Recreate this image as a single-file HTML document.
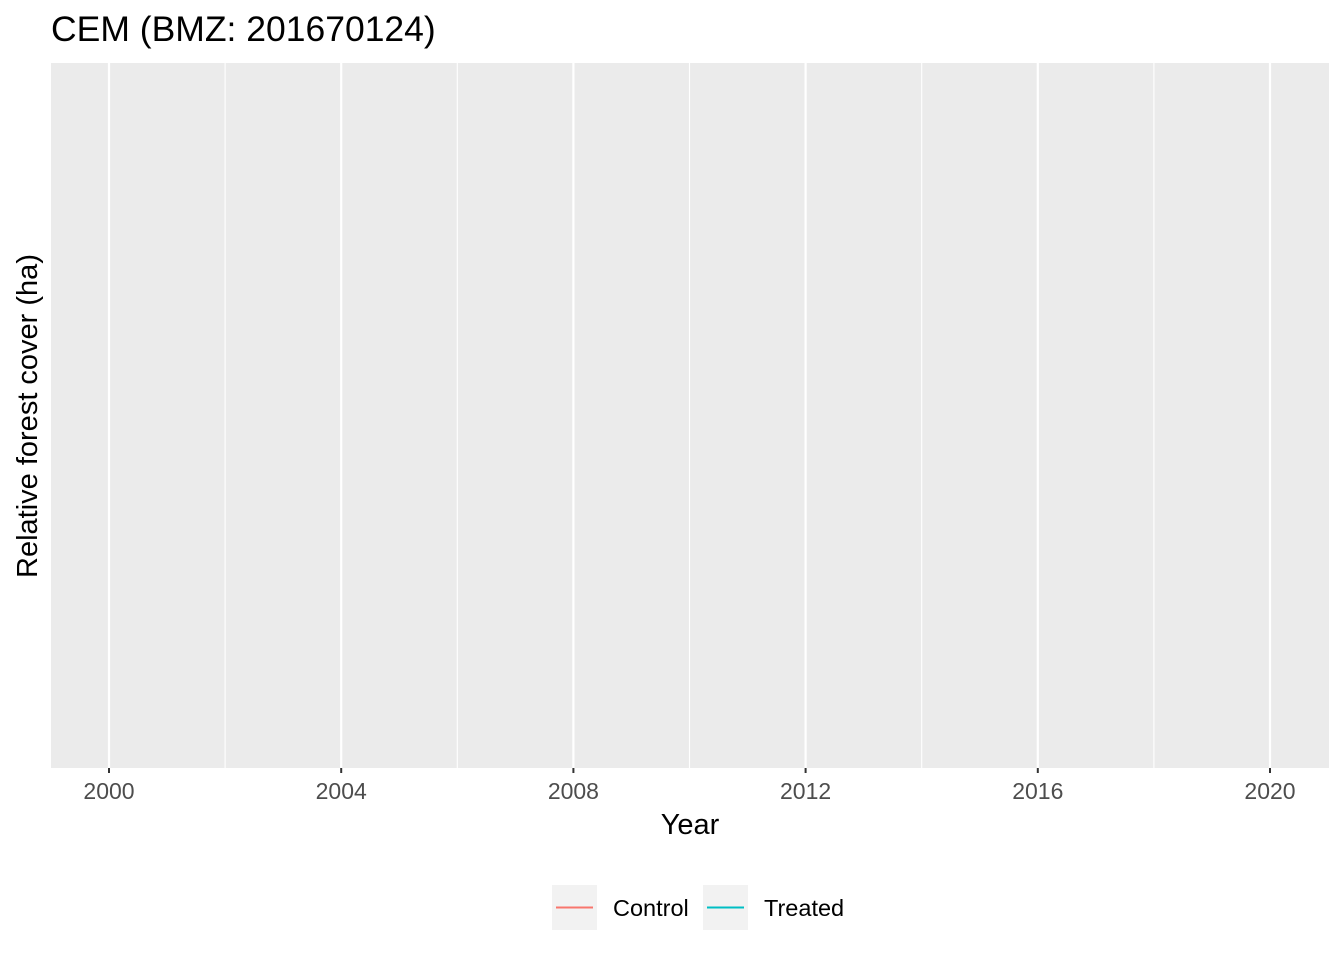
<!DOCTYPE html>
<html><head><meta charset="utf-8"><style>
body{margin:0;background:#fff;font-family:"Liberation Sans",sans-serif;}
svg{display:block}
</style></head><body>
<svg id="chart" width="1344" height="960">
<text x="51" y="41" font-size="35.5" fill="#000">CEM (BMZ: 201670124)</text>
<rect x="51" y="63" width="1278" height="705" fill="#ebebeb"/>
<g id="grid"></g>
<g id="xaxis"></g>
<text x="690" y="834" font-size="29" text-anchor="middle" fill="#000">Year</text>
<text transform="translate(37,416) rotate(-90)" font-size="29" text-anchor="middle" fill="#000">Relative forest cover (ha)</text>
<g>
<rect x="552" y="885" width="45" height="45" fill="#f2f2f2"/>
<line x1="556" y1="907.5" x2="593" y2="907.5" stroke="#F8766D" stroke-width="2"/>
<text x="613" y="916" font-size="23.5" fill="#000">Control</text>
<rect x="703" y="885" width="45" height="45" fill="#f2f2f2"/>
<line x1="707" y1="907.5" x2="744" y2="907.5" stroke="#00BFC4" stroke-width="2"/>
<text x="764" y="916" font-size="23.5" fill="#000">Treated</text>
</g>
</svg>
<script>
const tickYears=[2000,2004,2008,2012,2016,2020];
const minorYears=[2002,2006,2010,2014,2018];
const controlValues=[];
const treatedValues=[];
const ns="http://www.w3.org/2000/svg";
function xScale(y){return 109+(y-2000)*(1270-109)/20;}
const grid=document.getElementById('grid'),xa=document.getElementById('xaxis');
minorYears.forEach(y=>{
  const l=document.createElementNS(ns,'line');
  l.setAttribute('x1',xScale(y));l.setAttribute('x2',xScale(y));
  l.setAttribute('y1',63);l.setAttribute('y2',768);
  l.setAttribute('stroke','#fff');l.setAttribute('stroke-width','1.1');
  
  
  grid.appendChild(l);
});
tickYears.forEach(y=>{
  const l=document.createElementNS(ns,'line');
  l.setAttribute('x1',xScale(y));l.setAttribute('x2',xScale(y));
  l.setAttribute('y1',63);l.setAttribute('y2',768);
  l.setAttribute('stroke','#fff');l.setAttribute('stroke-width','2.2');
  
  
  grid.appendChild(l);
  const t=document.createElementNS(ns,'line');
  t.setAttribute('x1',xScale(y));t.setAttribute('x2',xScale(y));
  t.setAttribute('y1',768);t.setAttribute('y2',773);
  t.setAttribute('stroke','#333');t.setAttribute('stroke-width','2');
  
  
  xa.appendChild(t);
  const tx=document.createElementNS(ns,'text');
  tx.setAttribute('x',xScale(y));tx.setAttribute('y',799);
  tx.setAttribute('text-anchor','middle');tx.setAttribute('font-size','23');
  tx.setAttribute('fill','#4d4d4d');tx.textContent=y;
  
  
  xa.appendChild(tx);
});
</script>
</body></html>
